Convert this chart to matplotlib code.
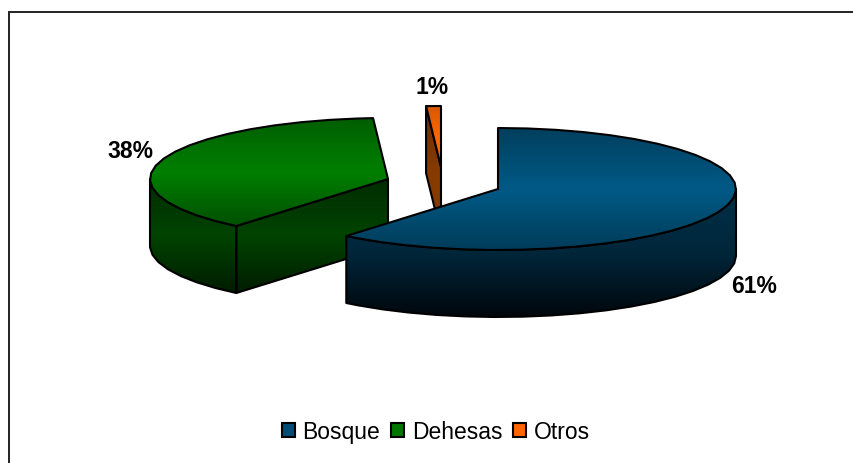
import matplotlib
matplotlib.use('Agg')
import matplotlib.pyplot as plt
import numpy as np
from matplotlib.colors import LinearSegmentedColormap
from matplotlib.patches import Patch, Polygon

plt.rcParams['font.family'] = ['Liberation Sans', 'DejaVu Sans']

categories = ['Bosque', 'Dehesas', 'Otros']
values = [61, 38, 1]
labels = ['61%', '38%', '1%']
colors = ['#004d74', '#007800', '#ff6600']

# sitio de cada trozo en pixeles, y tamaño de la elipse
centers = [(498, 190), (388, 180), (441, 168)]
label_pos = [(754, 287), (130, 152), (432, 87)]
RX = 238
RY = 61
DEPTH = 67

top_grads = [['#003f5e', '#005a86', '#003c5a'],
             ['#005e00', '#008000', '#005000'],
             ['#d85800', '#ff6600', '#ff6600']]
wall_grads = [['#002f48', '#00263a', '#00070c'],
              ['#002c00', '#004400', '#001c00'],
              ['#6c2f00', '#853a00', '#853a00']]


def rim(cx, cy, a0, a1, dy=0):
    # angulos en grados desde las 12, sentido horario
    t = np.radians(np.arange(a0, a1, 7.0).tolist() + [a1])
    return np.column_stack([cx + RX * np.sin(t), cy - RY * np.cos(t) + dy])


def fill_grad(ax, pts, grad, z):
    # poligono con degradado vertical
    poly = Polygon(pts, closed=True, fc='none', ec='black', lw=1.5, zorder=z + 0.1, joinstyle='round')
    ax.add_patch(poly)
    cmap = LinearSegmentedColormap.from_list('g', grad)
    x0, x1 = pts[:, 0].min(), pts[:, 0].max()
    y0, y1 = pts[:, 1].min(), pts[:, 1].max()
    im = ax.imshow(np.linspace(0, 1, 128).reshape(-1, 1), cmap=cmap, aspect='auto',
                   extent=(x0, x1, y1, y0), zorder=z)
    im.set_clip_path(poly)


fig = plt.figure(figsize=(8.54, 4.64), dpi=100)
ax = fig.add_axes([0, 0, 1, 1])

# marco: solo arriba e izquierda
ax.plot([9.5, 9.5, 854], [464, 12.5, 12.5], color='#222222', lw=1.4, zorder=1, solid_joinstyle='miter')

ends = np.cumsum(values) / 100 * 360
starts = np.concatenate([[0], ends[:-1]])

# se dibuja de atras hacia delante
for i, z in zip([2, 1, 0], [2, 4, 6]):
    cx, cy = centers[i]
    a0, a1 = starts[i], ends[i]
    top = np.vstack([[cx, cy], rim(cx, cy, a0, a1)])

    # pared exterior, solo la parte de delante
    f0, f1 = max(a0, 90), min(a1, 270)
    if f1 > f0:
        outer = rim(cx, cy, f0, f1)
        fill_grad(ax, np.vstack([outer, outer[::-1] + [0, DEPTH]]), wall_grads[i], z)

    # paredes de corte que se ven desde delante
    if i == 1:
        p = rim(cx, cy, a0, a0)[0]
        fill_grad(ax, np.array([[cx, cy], p, p + [0, DEPTH], [cx, cy + DEPTH]]), wall_grads[i], z)
    if i == 2:
        p = rim(cx, cy, a0, a0)[0]
        fill_grad(ax, np.array([p, [cx, cy], [cx, cy + DEPTH], p + [0, DEPTH]]), wall_grads[i], z)

    fill_grad(ax, top, top_grads[i], z + 1)

for lab, (x, y) in zip(labels, label_pos):
    ax.text(x, y, lab, fontsize=16.5, fontweight='bold', ha='center', va='center', color='black', zorder=10)

handles = [Patch(fc=c, ec='black', lw=1.5) for c in colors]
fig.legend(handles, categories, ncols=3, frameon=False, fontsize=16.5, loc='center',
           bbox_to_anchor=(436 / 854, 1 - 433 / 464), handlelength=0.57, handleheight=0.57,
           handletextpad=0.32, columnspacing=0.48, borderpad=0, labelcolor='black')

ax.set_xlim(0, 854)
ax.set_ylim(464, 0)
ax.axis('off')

fig.savefig('out.png', dpi=100)
